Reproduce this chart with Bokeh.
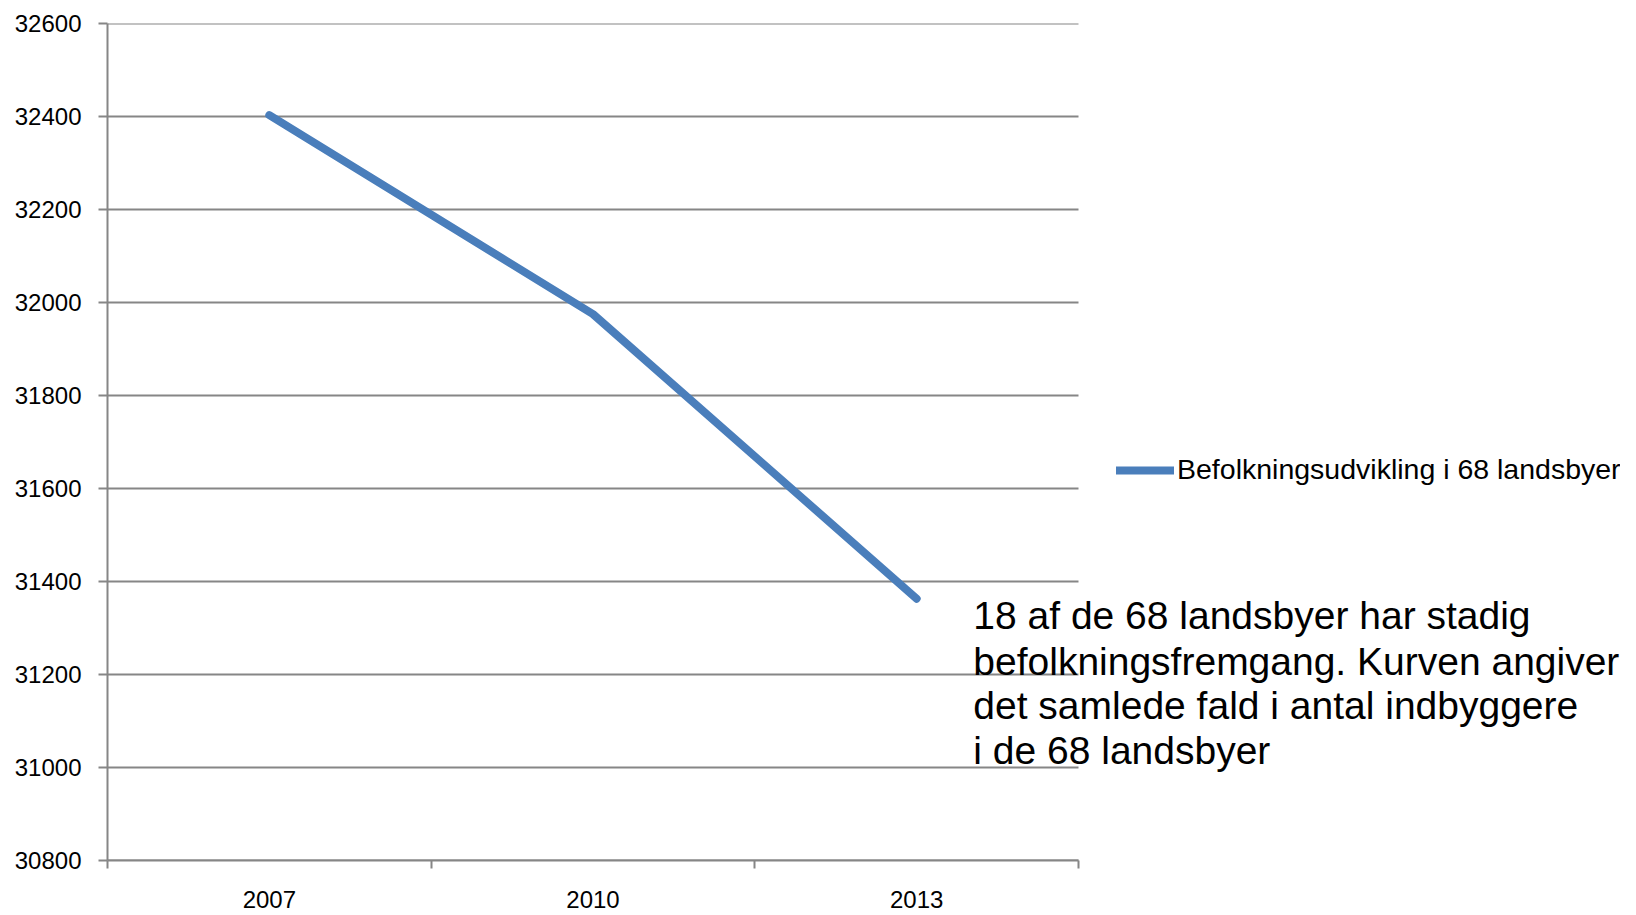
from bokeh.plotting import figure
from bokeh.models import FixedTicker, Range1d, Label, Legend, LegendItem
from bokeh.embed import file_html
from bokeh.resources import INLINE

years = ["2007", "2010", "2013"]
population = [32403, 31975, 31363]
y_ticks = [30800, 31000, 31200, 31400, 31600, 31800, 32000, 32200, 32400, 32600]
series_name = "Befolkningsudvikling i 68 landsbyer"
note_lines = [
    "18 af de 68 landsbyer har stadig",
    "befolkningsfremgang. Kurven angiver",
    "det samlede fald i antal indbyggere",
    "i de 68 landsbyer",
]

n = len(years)
x_pos = [i + 0.5 for i in range(n)]
FONT = "Liberation Sans"
GRID = "#868686"
BLUE = "#4a7ebb"

W, H = 1620, 912
LEFT, TOP, AX_RIGHT, BOTTOM = 107, 23, 1078, 860
x_end = n * (W - LEFT) / (AX_RIGHT - LEFT)

p = figure(width=W, height=H, output_backend="svg", toolbar_location=None,
           x_range=Range1d(0, x_end), y_range=Range1d(y_ticks[0], y_ticks[-1]))
p.min_border_left = LEFT
p.min_border_right = 0
p.min_border_top = TOP
p.min_border_bottom = H - BOTTOM
p.outline_line_color = None
p.background_fill_color = "white"

# horizontal gridlines limited to the category area
p.segment(x0=[0] * len(y_ticks), x1=[n] * len(y_ticks), y0=y_ticks, y1=y_ticks,
          line_color=GRID, line_width=2)

r = p.line(x_pos, population, line_width=8, line_color=BLUE,
           line_cap="round", line_join="round")

# x axis
p.xaxis.bounds = (0, n)
p.xaxis.ticker = FixedTicker(ticks=x_pos, minor_ticks=list(range(n + 1)))
p.xaxis.major_label_overrides = {x: y for x, y in zip(x_pos, years)}
p.xaxis.major_tick_out = 0
p.xaxis.major_tick_in = 0
p.xaxis.minor_tick_out = 8
p.xaxis.minor_tick_in = 0
p.xaxis.minor_tick_line_color = GRID
p.xaxis.minor_tick_line_width = 2
p.xaxis.axis_line_color = GRID
p.xaxis.axis_line_width = 2
p.xaxis.major_label_standoff = 22
p.xaxis.major_label_text_font = FONT
p.xaxis.major_label_text_font_size = "24px"
p.xaxis.major_label_text_color = "black"

# y axis
p.yaxis.ticker = FixedTicker(ticks=y_ticks)
p.yaxis.major_tick_out = 9
p.yaxis.major_tick_in = 0
p.yaxis.minor_tick_line_color = None
p.yaxis.major_tick_line_color = GRID
p.yaxis.major_tick_line_width = 2
p.yaxis.axis_line_color = GRID
p.yaxis.axis_line_width = 2
p.yaxis.major_label_standoff = 17
p.yaxis.major_label_text_font = FONT
p.yaxis.major_label_text_font_size = "24px"
p.yaxis.major_label_text_color = "black"

p.xgrid.grid_line_color = None
p.ygrid.grid_line_color = None

legend = Legend(items=[LegendItem(label=series_name, renderers=[r])],
                location=(1009, 374), orientation="vertical",
                padding=0, margin=0, spacing=0,
                border_line_alpha=0, background_fill_alpha=0,
                glyph_width=58, glyph_height=28, label_standoff=3,
                label_text_font=FONT, label_text_font_size="28.5px",
                label_text_color="black")
p.add_layout(legend, "center")

base_y = [31326, 31229, 31133, 31037]
for txt, yy in zip(note_lines, base_y):
    p.add_layout(Label(x=2.675, y=yy, text=txt, text_font=FONT, text_font_size="39px",
                       text_color="black", text_baseline="alphabetic", text_align="left"))

open("out.html", "w").write(file_html(p, INLINE))
